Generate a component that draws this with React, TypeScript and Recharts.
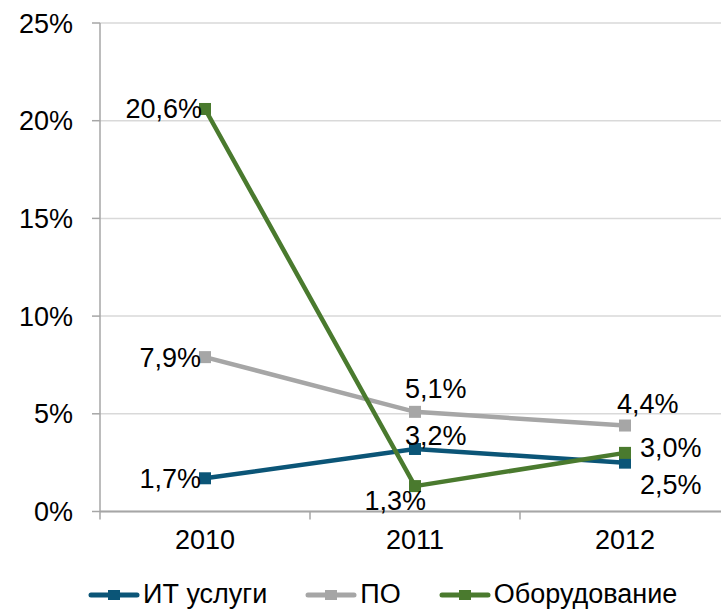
import { LineChart, Line, XAxis, YAxis, CartesianGrid, LabelList } from 'recharts'

const years = ['2010', '2011', '2012']
const itServices = [1.7, 3.2, 2.5]
const software = [7.9, 5.1, 4.4]
const hardware = [20.6, 1.3, 3.0]
const yTicks = [0, 5, 10, 15, 20, 25]

const FONT = '"Liberation Sans", Arial, sans-serif'
const W = 735
const H = 612
const AXIS_W = 100
const MARGIN = { top: 23, right: 5, left: 0, bottom: 40.5 }
const BAND = (W - AXIS_W - MARGIN.left - MARGIN.right) / years.length

const COLORS = {
  it: '#0b5577',
  po: '#a6a6a6',
  hw: '#4a7a2e',
  grid: '#d9d9d9',
  axis: '#a6a6a6',
}

type Place = { dx: number; dy: number; anchor: 'start' | 'middle' | 'end' }

// label placement per point (offset from the marker centre, dy = baseline)
const itPlace: Place[] = [
  { dx: -4, dy: 10, anchor: 'end' },
  { dx: -10, dy: -4, anchor: 'start' },
  { dx: 15, dy: 31, anchor: 'start' },
]
const poPlace: Place[] = [
  { dx: -4, dy: 10, anchor: 'end' },
  { dx: -10, dy: -14, anchor: 'start' },
  { dx: -8, dy: -13, anchor: 'start' },
]
const hwPlace: Place[] = [
  { dx: -3, dy: 9, anchor: 'end' },
  { dx: 11, dy: 24, anchor: 'end' },
  { dx: 15, dy: 4, anchor: 'start' },
]

const data = years.map((year, i) => ({
  year,
  it: itServices[i],
  po: software[i],
  hw: hardware[i],
}))

const fmt = (v: number) => v.toFixed(1).replace('.', ',') + '%'

function makeLabel(places: Place[]) {
  return (props: any) => {
    const { x, y, value, index } = props
    const p = places[index] || places[0]
    return (
      <text
        x={Number(x) + p.dx}
        y={Number(y) + p.dy}
        textAnchor={p.anchor}
        fontSize={27}
        fontFamily={FONT}
        fill="#000"
      >
        {fmt(Number(value))}
      </text>
    )
  }
}

function SquareDot(color: string) {
  return (props: any) => {
    const { cx, cy, index } = props
    if (cx == null || cy == null) return <g key={index} />
    return <rect key={index} x={cx - 6} y={cy - 6} width={12} height={12} fill={color} />
  }
}

function YearTick(props: any) {
  const { x, y, payload } = props
  const left = x - BAND / 2
  return (
    <g>
      <line x1={left} y1={y} x2={left} y2={y + 8} stroke={COLORS.axis} strokeWidth={1.5} />
      <text x={x} y={y + 37} textAnchor="middle" fontSize={27} fontFamily={FONT} fill="#000">
        {payload.value}
      </text>
    </g>
  )
}

function LegendIcon({ color }: { color: string }) {
  return (
    <svg width={52} height={14} style={{ display: 'block' }}>
      <line x1={3} y1={7} x2={49} y2={7} stroke={color} strokeWidth={5} strokeLinecap="round" />
      <rect x={20} y={2} width={12} height={10} fill={color} />
    </svg>
  )
}

const legendItems = [
  { name: 'ИТ услуги', color: COLORS.it },
  { name: 'ПО', color: COLORS.po },
  { name: 'Оборудование', color: COLORS.hw },
]

export default function App() {
  return (
    <div
      style={{
        position: 'absolute',
        left: 0,
        top: 0,
        width: 721,
        height: H,
        overflow: 'hidden',
        background: '#fff',
        fontFamily: FONT,
      }}
    >
      <LineChart width={W} height={H} data={data} margin={MARGIN}>
        <CartesianGrid vertical={false} stroke={COLORS.grid} strokeWidth={1.5} />
        <XAxis
          dataKey="year"
          height={60}
          padding={{ left: BAND / 2, right: BAND / 2 }}
          axisLine={{ stroke: COLORS.axis, strokeWidth: 2 }}
          tickLine={false}
          tickSize={0}
          tickMargin={0}
          tick={<YearTick />}
          interval={0}
        />
        <YAxis
          width={AXIS_W}
          domain={[0, 25]}
          ticks={yTicks}
          tickFormatter={(v) => `${v}%`}
          axisLine={{ stroke: COLORS.axis, strokeWidth: 1.5 }}
          tickLine={{ stroke: COLORS.axis, strokeWidth: 1.5 }}
          tickSize={8}
          tickMargin={19}
          tick={{ fontSize: 27, fontFamily: FONT, fill: '#000' }}
        />
        <Line
          dataKey="it"
          stroke={COLORS.it}
          strokeWidth={4.5}
          dot={SquareDot(COLORS.it)}
          activeDot={false}
          isAnimationActive={false}
        >
          <LabelList dataKey="it" content={makeLabel(itPlace)} />
        </Line>
        <Line
          dataKey="po"
          stroke={COLORS.po}
          strokeWidth={4.5}
          dot={SquareDot(COLORS.po)}
          activeDot={false}
          isAnimationActive={false}
        >
          <LabelList dataKey="po" content={makeLabel(poPlace)} />
        </Line>
        <Line
          dataKey="hw"
          stroke={COLORS.hw}
          strokeWidth={4.5}
          dot={SquareDot(COLORS.hw)}
          activeDot={false}
          isAnimationActive={false}
        >
          <LabelList dataKey="hw" content={makeLabel(hwPlace)} />
        </Line>
      </LineChart>
      <div
        style={{
          position: 'absolute',
          left: 88,
          top: 579,
          display: 'flex',
          alignItems: 'center',
          gap: 38,
          fontSize: 27,
          lineHeight: '31px',
          color: '#000',
          whiteSpace: 'nowrap',
        }}
      >
        {legendItems.map((it) => (
          <div key={it.name} style={{ display: 'flex', alignItems: 'center' }}>
            <LegendIcon color={it.color} />
            <span style={{ marginLeft: 3 }}>{it.name}</span>
          </div>
        ))}
      </div>
    </div>
  )
}
